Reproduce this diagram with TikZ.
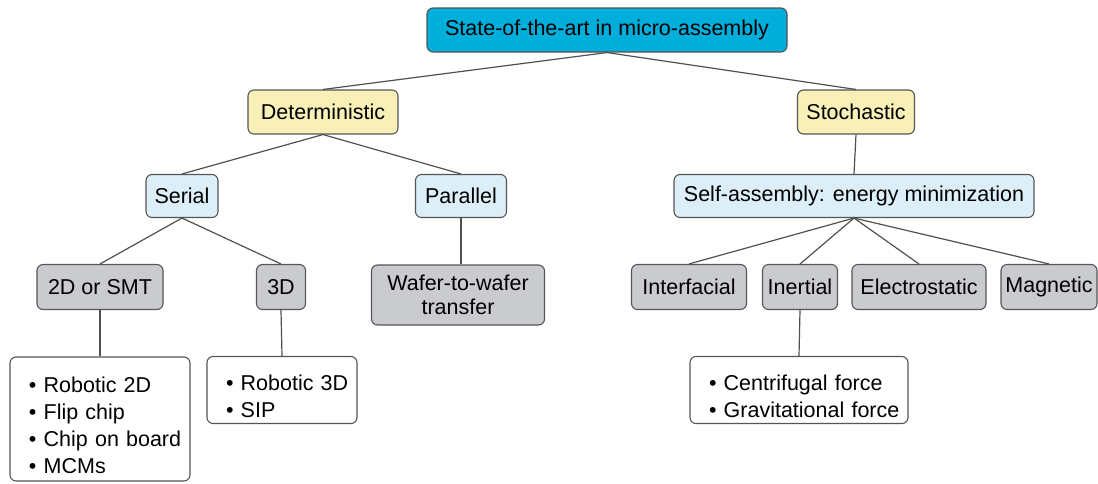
\documentclass[tikz,border=0pt]{standalone}
\usepackage{fontspec}
\setmainfont{Liberation Sans}
\usetikzlibrary{positioning}
\definecolor{cian}{HTML}{00AEDB}
\definecolor{amarillo}{HTML}{F8F0B6}
\definecolor{celeste}{HTML}{DCEEF7}
\definecolor{gris}{HTML}{C9CBCF}
\definecolor{borde}{HTML}{555555}
\definecolor{linea}{HTML}{505050}
\newcommand{\punto}{\hspace*{17pt}\textbullet\ }
\newcommand{\arriba}{\rule{0pt}{28pt}}
\tikzset{
    caja/.style={rectangle, rounded corners=6pt, draw=borde, line width=1.1pt,
        inner sep=0pt, font=\fontsize{21.5}{27}\selectfont, text=black},
    raiz/.style={caja, fill=cian},
    metodo/.style={caja, fill=amarillo},
    tipo/.style={caja, fill=celeste},
    tecnica/.style={caja, fill=gris, align=center},
    lista/.style={caja, fill=white, align=left, inner xsep=2pt},
    conexion/.style={draw=linea, line width=1.2pt}}

\begin{document}
\begin{tikzpicture}[x=1pt, y=-1pt]
    \useasboundingbox (0,0) rectangle (1098,483);
    % Raiz
    \node (raiz) [raiz, minimum width=360pt, minimum height=44pt] at (607,30) {State-of-the-art in micro-assembly};
    % Primer nivel
    \node (det) [metodo, minimum width=150pt, minimum height=44pt] at (323,112) {Deterministic};
    \node (esto) [metodo, minimum width=117pt, minimum height=44pt] at (856,112) {Stochastic};
    % Segundo nivel
    \node (serie) [tipo, minimum width=72pt, minimum height=43pt] at (182,196) {Serial};
    \node (paralelo) [tipo, minimum width=91pt, minimum height=43pt] at (461,196) {Parallel};
    \node (autoens) [tipo, minimum width=360pt, minimum height=43pt] at (854,196) {Self-assembly: energy minimization};
    % Tercer nivel
    \node (smt) [tecnica, minimum width=126pt, minimum height=45pt] at (100,287) {2D or SMT};
    \node (tresd) [tecnica, minimum width=49pt, minimum height=45pt] at (281,287) {3D};
    \node (oblea) [tecnica, minimum width=173pt, minimum height=60pt,
        font=\fontsize{21.5}{23.5}\selectfont] at (458,295) {Wafer-to-wafer\\transfer};
    \node (interfaz) [tecnica, minimum width=115pt, minimum height=45pt] at (689,287) {Interfacial};
    \node (inercial) [tecnica, minimum width=75pt, minimum height=45pt] at (800,287) {Inertial};
    \node (electro) [tecnica, minimum width=134pt, minimum height=45pt] at (919,287) {Electrostatic};
    \node (magnet) [tecnica, minimum width=96pt, minimum height=45pt] at (1049,287) {Magnetic};
    % Listas
    \node (lista1) [lista, text width=176pt, minimum height=124pt] at (100,419)
        {\arriba\punto Robotic 2D\\\punto Flip chip\\\punto Chip on board\\\punto MCMs};
    \node (lista2) [lista, text width=146pt, minimum height=67pt] at (282,390)
        {\arriba\punto Robotic 3D\\\punto SIP};
    \node (lista3) [lista, text width=214pt, minimum height=67pt] at (799,390)
        {\arriba\punto Centrifugal force\\\punto Gravitational force};

    \foreach \a/\b in {raiz/det, raiz/esto, det/serie, det/paralelo, esto/autoens,
        serie/smt, serie/tresd, autoens/interfaz, autoens/inercial, autoens/electro,
        autoens/magnet, smt/lista1, tresd/lista2, inercial/lista3}
        \draw[conexion] (\a.south) -- (\b.north);
    \draw[conexion] (paralelo.south) -- (paralelo.south |- oblea.north);
\end{tikzpicture}
\end{document}
